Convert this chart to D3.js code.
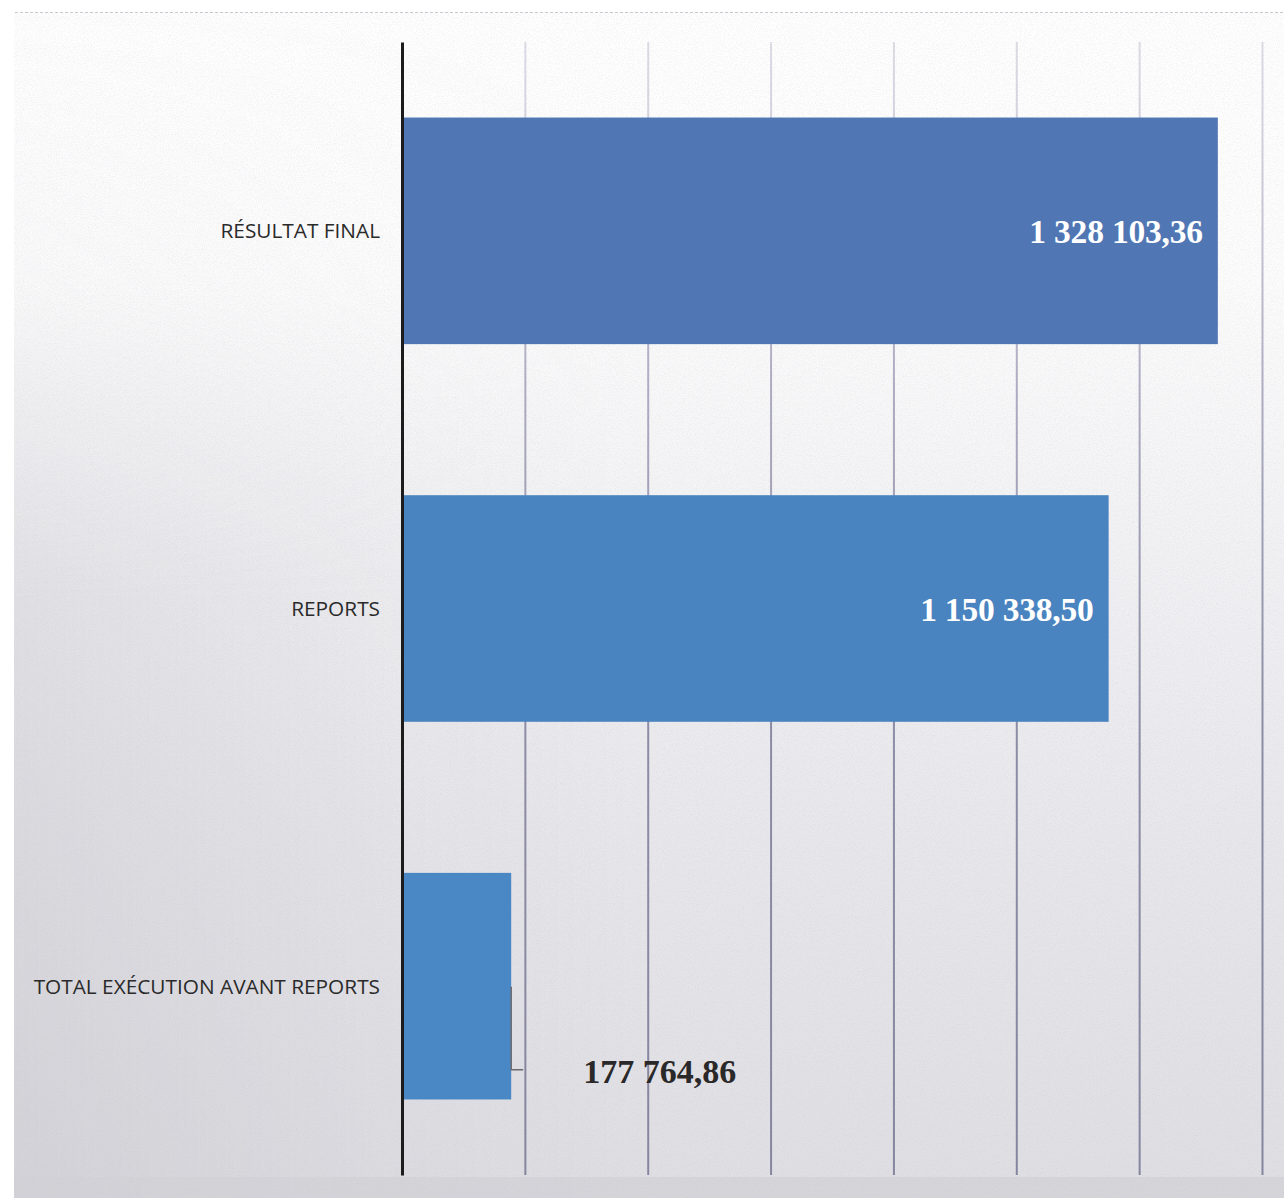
<!DOCTYPE html>
<html lang="fr">
<head>
<meta charset="utf-8">
<script src="https://cdn.jsdelivr.net/npm/d3@7"></script>
<style>
  html, body { margin: 0; padding: 0; background: #ffffff; }
  svg { display: block; }
</style>
</head>
<body>
<svg id="chart" width="1284" height="1198"></svg>
<script>
// Budget execution summary (values in euros)
const categories = ["RÉSULTAT FINAL", "REPORTS", "TOTAL EXÉCUTION AVANT REPORTS"];
const values = [1328103.36, 1150338.50, 177764.86];
const valueLabels = ["1 328 103,36", "1 150 338,50", "177 764,86"];
const barColors = ["#5077b4", "#4a84c0", "#4a88c5"];
const gridValues = [200000, 400000, 600000, 800000, 1000000, 1200000, 1400000];

const W = 1284, H = 1198;
const plot = { left: 402, right: 1262, top: 42, bottom: 1175 };

const svg = d3.select("#chart");
const defs = svg.append("defs");

// paper tone: white at the top, greyer toward the bottom
const bgV = defs.append("linearGradient").attr("id", "bgV")
  .attr("x1", 0).attr("y1", 0).attr("x2", 0).attr("y2", 1);
bgV.append("stop").attr("offset", "0%").attr("stop-color", "#ffffff");
bgV.append("stop").attr("offset", "22%").attr("stop-color", "#fdfdfd");
bgV.append("stop").attr("offset", "45%").attr("stop-color", "#f2f2f4");
bgV.append("stop").attr("offset", "70%").attr("stop-color", "#e8e7eb");
bgV.append("stop").attr("offset", "100%").attr("stop-color", "#dfdee3");

// slightly darker along the left edge
const bgH = defs.append("linearGradient").attr("id", "bgH")
  .attr("x1", 0).attr("y1", 0).attr("x2", 1).attr("y2", 0);
bgH.append("stop").attr("offset", "0%").attr("stop-color", "#aaa9b2").attr("stop-opacity", 0.22);
bgH.append("stop").attr("offset", "30%").attr("stop-color", "#aaa9b2").attr("stop-opacity", 0.06);
bgH.append("stop").attr("offset", "50%").attr("stop-color", "#aaa9b2").attr("stop-opacity", 0);

const leftFade = defs.append("linearGradient").attr("id", "leftFade")
  .attr("x1", 0).attr("y1", 0).attr("x2", 0).attr("y2", 1);
leftFade.append("stop").attr("offset", "0%").attr("stop-color", "#fff").attr("stop-opacity", 0);
leftFade.append("stop").attr("offset", "25%").attr("stop-color", "#fff").attr("stop-opacity", 0.2);
leftFade.append("stop").attr("offset", "50%").attr("stop-color", "#fff").attr("stop-opacity", 1);
const leftMask = defs.append("mask").attr("id", "leftMask");
leftMask.append("rect").attr("x", 0).attr("y", 0).attr("width", W).attr("height", H)
  .attr("fill", "url(#leftFade)");

// fine paper grain
const grain = defs.append("filter").attr("id", "grain")
  .attr("x", 0).attr("y", 0).attr("width", "100%").attr("height", "100%");
grain.append("feTurbulence").attr("type", "fractalNoise")
  .attr("baseFrequency", 0.85).attr("numOctaves", 2).attr("seed", 7).attr("result", "n");
grain.append("feColorMatrix").attr("in", "n").attr("type", "matrix")
  .attr("values", "0 0 0 0 0.5  0 0 0 0 0.49  0 0 0 0 0.55  1.4 0 0 0 -0.55");

// gridlines fade out toward the top of the plot (coordinates local to the axis group)
const gridGrad = defs.append("linearGradient").attr("id", "gridGrad")
  .attr("gradientUnits", "userSpaceOnUse")
  .attr("x1", 0).attr("y1", -(plot.bottom - plot.top)).attr("x2", 0).attr("y2", 0);
gridGrad.append("stop").attr("offset", "0%").attr("stop-color", "#b4b2c6").attr("stop-opacity", 0.45);
gridGrad.append("stop").attr("offset", "30%").attr("stop-color", "#a09fb8").attr("stop-opacity", 0.85);
gridGrad.append("stop").attr("offset", "60%").attr("stop-color", "#8c8ca6").attr("stop-opacity", 1);
gridGrad.append("stop").attr("offset", "100%").attr("stop-color", "#85859f").attr("stop-opacity", 1);

// background
svg.append("rect").attr("x", 14).attr("y", 12).attr("width", W - 14).attr("height", H - 12)
  .attr("fill", "url(#bgV)");
svg.append("rect").attr("x", 14).attr("y", 12).attr("width", W - 14).attr("height", H - 12)
  .attr("fill", "url(#bgH)").attr("mask", "url(#leftMask)");
svg.append("rect").attr("x", 14).attr("y", plot.bottom + 2).attr("width", W - 14).attr("height", H - plot.bottom - 2)
  .attr("fill", "#d2d1d7").attr("opacity", 0.75);
svg.append("rect").attr("x", 14).attr("y", 12).attr("width", W - 14).attr("height", H - 12)
  .attr("filter", "url(#grain)").attr("opacity", 0.3);
svg.append("line").attr("x1", 15).attr("x2", W).attr("y1", 12.5).attr("y2", 12.5)
  .attr("stroke", "#c9c8d0").attr("stroke-width", 1).attr("stroke-dasharray", "3,2");

// scales
const x = d3.scaleLinear().domain([0, 1400000]).range([plot.left, plot.right]);
const y = d3.scaleBand().domain(categories).range([plot.top, plot.bottom])
  .paddingInner(0.4).paddingOuter(0.2);

// vertical gridlines
const gridAxis = d3.axisBottom(x).tickValues(gridValues)
  .tickSize(-(plot.bottom - plot.top)).tickFormat("");
const gridG = svg.append("g").attr("transform", `translate(0,${plot.bottom})`).call(gridAxis);
gridG.select(".domain").remove();
gridG.selectAll(".tick line")
  .attr("stroke", "url(#gridGrad)").attr("stroke-width", 2);

// bars
svg.append("g").selectAll("rect").data(categories).join("rect")
  .attr("x", x(0) + 1)
  .attr("y", d => y(d))
  .attr("width", (d, i) => x(values[i]) - x(0) - 1)
  .attr("height", y.bandwidth())
  .attr("fill", (d, i) => barColors[i]);

// category axis
const yAxis = d3.axisLeft(y).tickSize(0).tickPadding(22);
const yG = svg.append("g").attr("transform", `translate(${plot.left},0)`).call(yAxis);
yG.select(".domain").attr("stroke", "#1c1c1c").attr("stroke-width", 3);
yG.selectAll(".tick text")
  .attr("font-family", "'Open Sans', 'Liberation Sans', sans-serif")
  .attr("font-size", 20.8)
  .attr("fill", "#2a2a2a")
  .attr("dy", "0.36em");

// value labels inside the long bars
const serif = "'Liberation Serif', 'DejaVu Serif', serif";
svg.append("g").selectAll("text").data([0, 1]).join("text")
  .attr("x", i => x(values[i]) - 15)
  .attr("y", i => y(categories[i]) + y.bandwidth() / 2 + 12)
  .attr("text-anchor", "end")
  .attr("font-family", serif)
  .attr("font-weight", "bold")
  .attr("font-size", 33.5)
  .attr("letter-spacing", -0.2)
  .attr("fill", "#ffffff")
  .text(i => valueLabels[i]);

// value label of the short bar, placed outside with a leader line
const iSmall = 2;
const yTop3 = y(categories[iSmall]);
const xEnd3 = x(values[iSmall]);
svg.append("path")
  .attr("d", `M${xEnd3},${yTop3 + 114} V${yTop3 + 197} H${xEnd3 + 12}`)
  .attr("fill", "none").attr("stroke", "#6a6a70").attr("stroke-width", 1.5);
svg.append("text")
  .attr("x", xEnd3 + 72)
  .attr("y", yTop3 + 210)
  .attr("font-family", serif)
  .attr("font-weight", "bold")
  .attr("font-size", 34)
  .attr("fill", "#2a2828")
  .text(valueLabels[iSmall]);
</script>
</body>
</html>
